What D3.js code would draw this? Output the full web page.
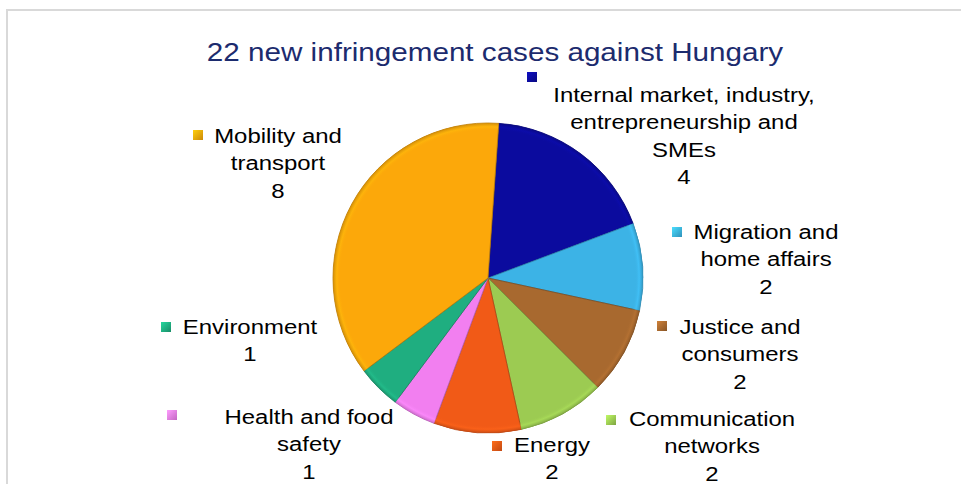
<!DOCTYPE html>
<html lang="en">
<head>
<meta charset="UTF-8">
<title>Infringement cases</title>
<script src="https://d3js.org/d3.v7.min.js"></script>
<style>
  body { margin: 0; background: #fff; }
  svg text { font-family: "Liberation Sans", Arial, sans-serif; }
</style>
</head>
<body>
<div id="chart"></div>
<script>
// data
var categories = ["Internal market, industry, entrepreneurship and SMEs", "Migration and home affairs",
  "Justice and consumers", "Communication networks", "Energy", "Health and food safety",
  "Environment", "Mobility and transport"];
var values = [4, 2, 2, 2, 2, 1, 1, 8];
var labelLines = [
  ["Internal market, industry,", "entrepreneurship and", "SMEs"],
  ["Migration and", "home affairs"],
  ["Justice and", "consumers"],
  ["Communication", "networks"],
  ["Energy"],
  ["Health and food", "safety"],
  ["Environment"],
  ["Mobility and", "transport"]
];
var colors = ["#0b0b9e", "#3cb3e6", "#a8692f", "#9ccb52", "#f15a17", "#f27ff0", "#1fae80", "#fca80a"];

// label layout (centre of text block, first baseline, legend key position)
var labelPos = [
  {x: 684, y: 102, kx: 527, ky: 72},
  {x: 766, y: 239, kx: 672, ky: 227},
  {x: 740, y: 334, kx: 657, ky: 321},
  {x: 712, y: 426, kx: 606, ky: 415},
  {x: 552, y: 452, kx: 492, ky: 441},
  {x: 309, y: 424, kx: 167, ky: 410},
  {x: 250, y: 334, kx: 161, ky: 322},
  {x: 278, y: 143, kx: 193, ky: 130}
];

var width = 961, height = 484;
var cx = 488, cy = 278, radius = 155;
var stretch = 1.14;   // text in the source image is widened

var svg = d3.select("#chart").append("svg")
  .attr("width", width)
  .attr("height", height);

// outer frame
svg.append("rect")
  .attr("x", 7).attr("y", 10)
  .attr("width", 980).attr("height", 500)
  .attr("fill", "none")
  .attr("stroke", "#d9d9d9")
  .attr("stroke-width", 2);

// title
svg.append("g")
  .attr("transform", "translate(495,0) scale(" + stretch + ",1)")
  .append("text")
    .attr("x", 0).attr("y", 61)
    .attr("text-anchor", "middle")
    .style("font-size", "26px")
    .style("fill", "#1c2b6e")
    .text("22 new infringement cases against Hungary");

var defs = svg.append("defs");
colors.forEach(function(c, i) {
  var g = defs.append("radialGradient")
    .attr("id", "grad" + i)
    .attr("gradientUnits", "userSpaceOnUse")
    .attr("cx", 0).attr("cy", 0).attr("r", radius);
  g.append("stop").attr("offset", "0%").attr("stop-color", c).attr("stop-opacity", 0);
  g.append("stop").attr("offset", "95%").attr("stop-color", c).attr("stop-opacity", 0);
  g.append("stop").attr("offset", "97.5%").attr("stop-color", d3.color(c).brighter(0.3)).attr("stop-opacity", 0.6);
  g.append("stop").attr("offset", "100%").attr("stop-color", d3.color(c).darker(0.6)).attr("stop-opacity", 0.9);

  var k = defs.append("linearGradient")
    .attr("id", "key" + i)
    .attr("x1", 0).attr("y1", 0).attr("x2", 1).attr("y2", 1);
  k.append("stop").attr("offset", "0%").attr("stop-color", d3.color(c).brighter(0.6));
  k.append("stop").attr("offset", "100%").attr("stop-color", d3.color(c).darker(0.6));
});

var data = categories.map(function(c, i) { return {name: c, value: values[i], idx: i}; });

var startOffset = 4 * Math.PI / 180;
var pie = d3.pie()
  .sort(null)
  .value(function(d) { return d.value; })
  .startAngle(startOffset)
  .endAngle(2 * Math.PI + startOffset);

var arc = d3.arc().innerRadius(0).outerRadius(radius);

var g = svg.append("g").attr("transform", "translate(" + cx + "," + cy + ")");

g.selectAll("path.slice")
  .data(pie(data))
  .enter()
  .append("path")
    .attr("class", "slice")
    .attr("d", arc)
    .attr("fill", function(d) { return colors[d.data.idx]; })
    .attr("stroke", function(d) { return d3.color(colors[d.data.idx]).darker(0.9); })
    .attr("stroke-width", 0.8);

// bevel shading on the rim
g.selectAll("path.rim")
  .data(pie(data))
  .enter()
  .append("path")
    .attr("class", "rim")
    .attr("d", arc)
    .attr("fill", function(d) { return "url(#grad" + d.data.idx + ")"; });

// labels
var lineH = 27.3;
var labels = svg.selectAll("g.label")
  .data(data)
  .enter()
  .append("g")
    .attr("class", "label");

labels.append("rect")
  .attr("x", function(d) { return labelPos[d.idx].kx; })
  .attr("y", function(d) { return labelPos[d.idx].ky; })
  .attr("width", 10).attr("height", 10)
  .attr("fill", function(d) { return "url(#key" + d.idx + ")"; });

labels.each(function(d) {
  var p = labelPos[d.idx];
  var t = d3.select(this).append("g")
    .attr("transform", "translate(" + p.x + ",0) scale(" + stretch + ",1)")
    .append("text")
    .attr("text-anchor", "middle")
    .style("font-size", "21px")
    .style("fill", "#000");
  labelLines[d.idx].concat([String(d.value)]).forEach(function(line, j) {
    t.append("tspan")
      .attr("x", 0)
      .attr("y", p.y + j * lineH)
      .text(line);
  });
});
</script>
</body>
</html>
